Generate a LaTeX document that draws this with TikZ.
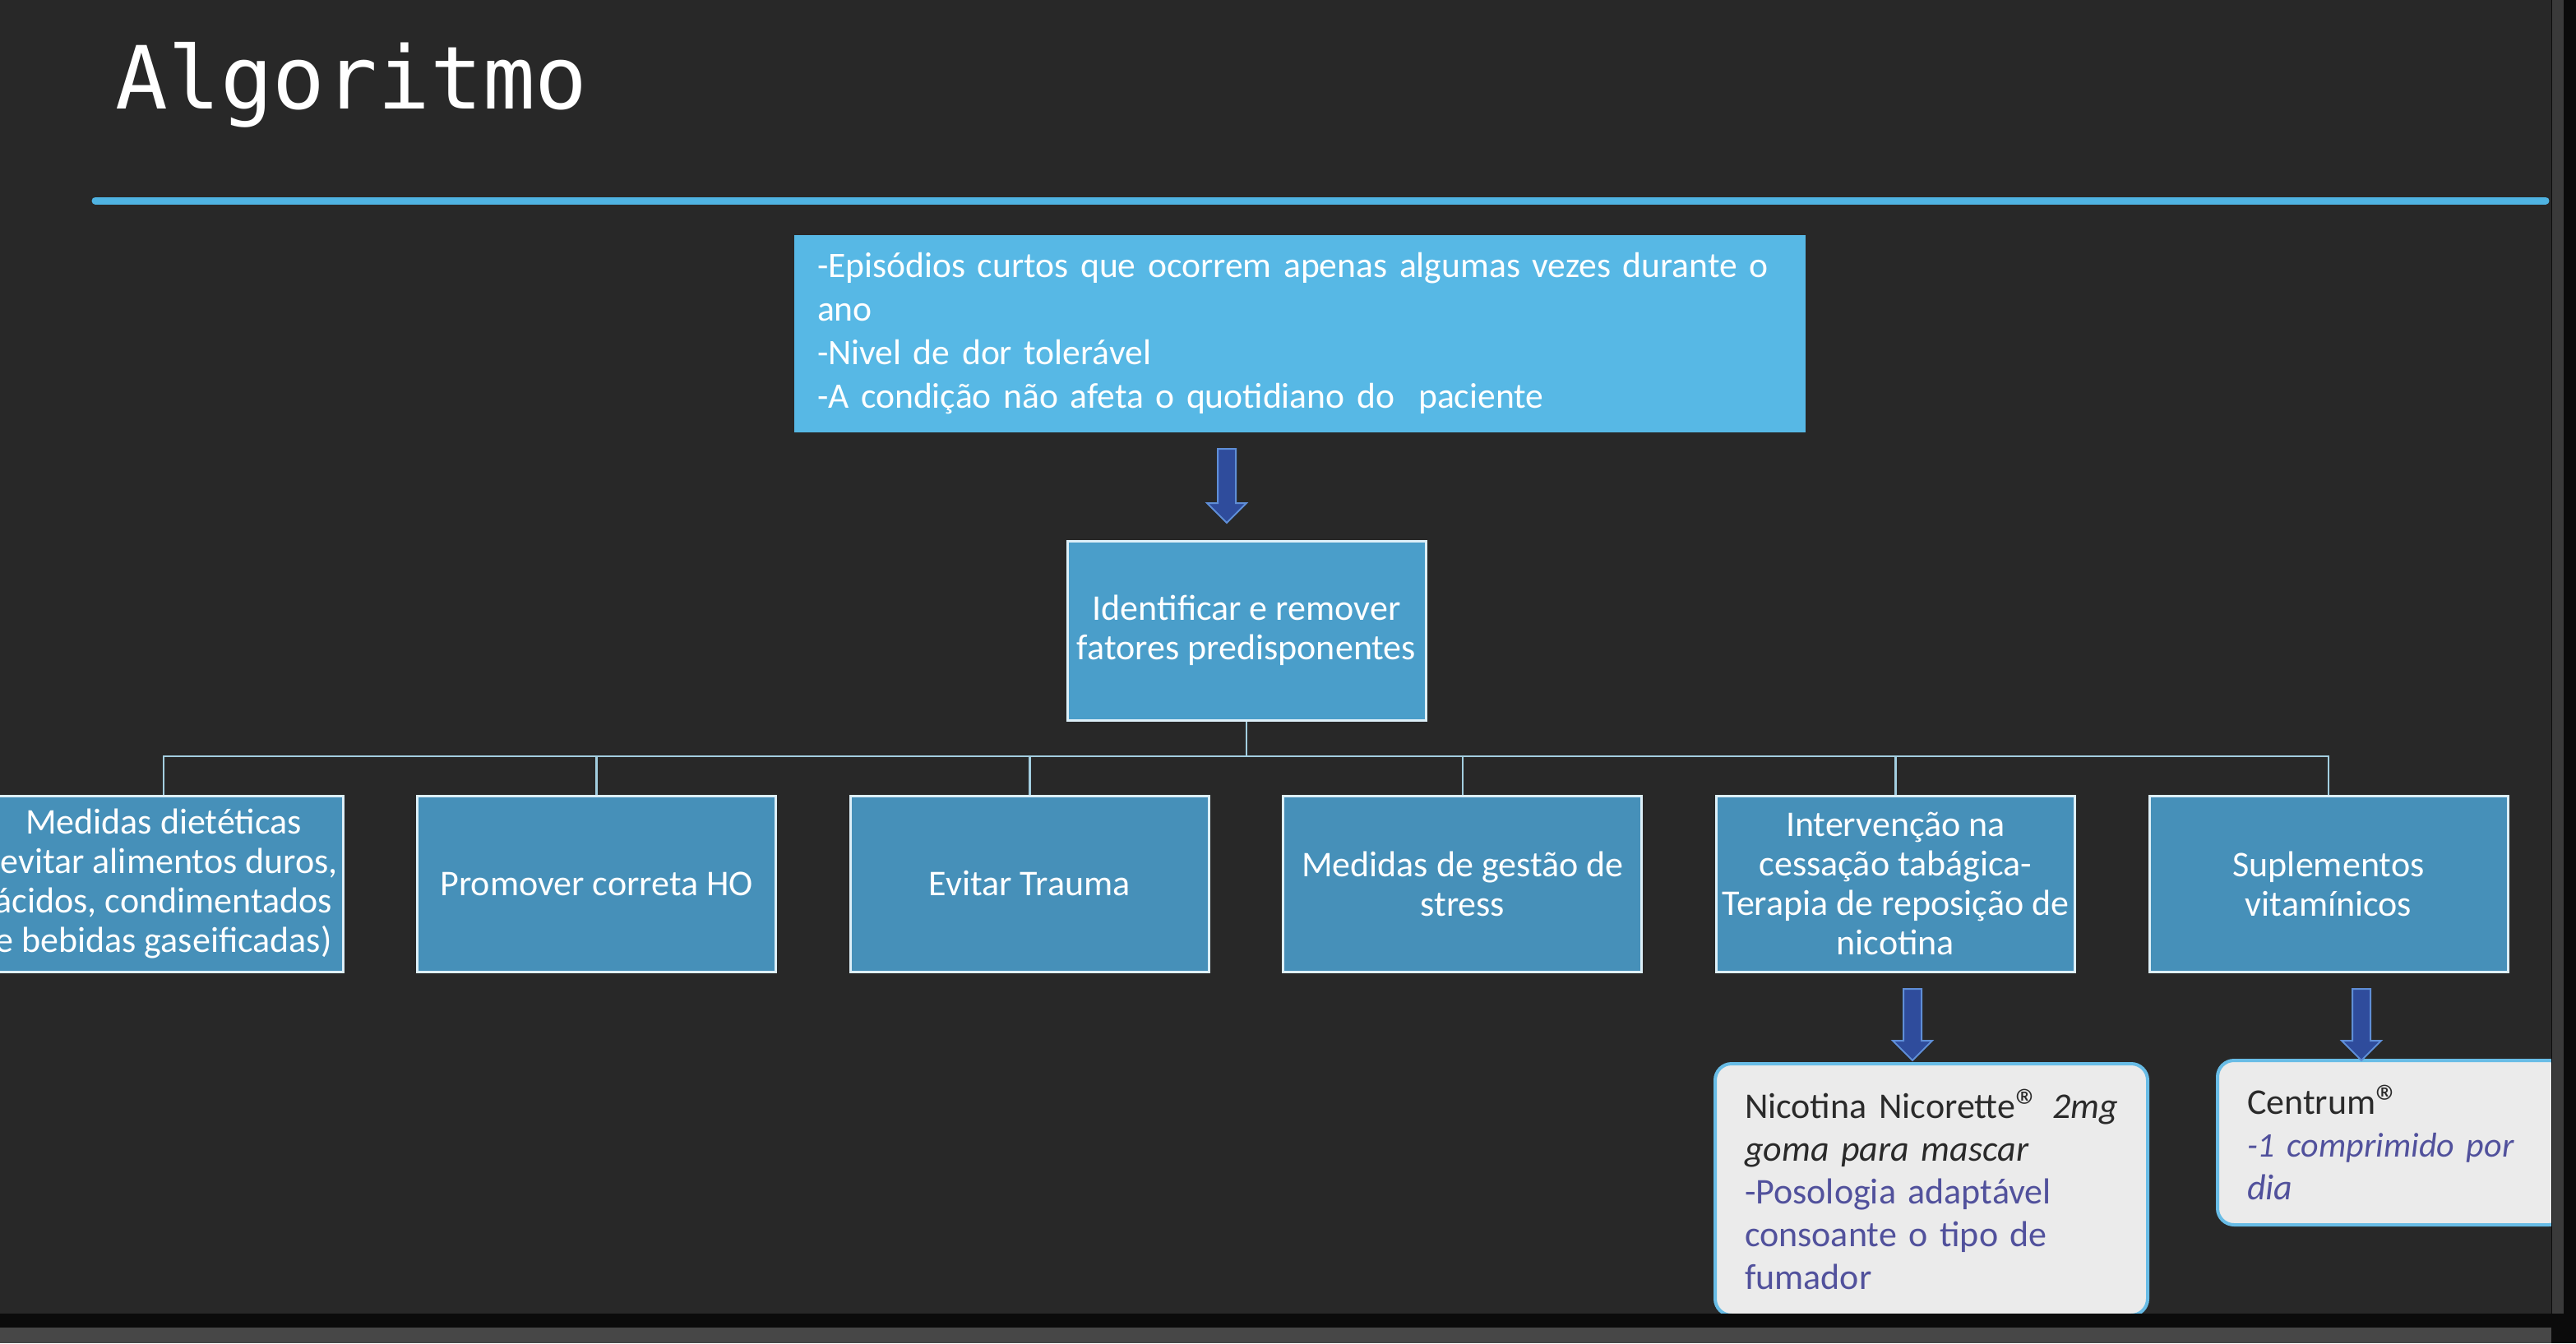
\documentclass[tikz,border=0pt]{standalone}
\usepackage{fontspec}
\setmainfont{Carlito}
\newfontfamily\topfont{Carlito}[WordSpace=0.8]
\newfontfamily\titlefont{DejaVu Sans Mono}
\usetikzlibrary{calc,arrows.meta}
\definecolor{board}{HTML}{282828}
\definecolor{hdrline}{HTML}{4FB3E2}
\definecolor{topblue}{HTML}{57B8E5}
\definecolor{midblue}{HTML}{4A9ECA}
\definecolor{rowblue}{HTML}{4690B9}
\definecolor{boxedge}{HTML}{DDEFF8}
\definecolor{connline}{HTML}{A3CEE0}
\definecolor{arrowfill}{HTML}{2F4C9C}
\definecolor{arrowedge}{HTML}{5F8ED6}
\definecolor{notegray}{HTML}{EBEBEB}
\definecolor{noteedge}{HTML}{68BCE6}
\definecolor{notedark}{HTML}{2A2A2A}
\definecolor{notepurple}{HTML}{51519C}
\definecolor{edgegray}{HTML}{3A3A3A}
\definecolor{edgeblack}{HTML}{0B0B0B}
\definecolor{bottomgray}{HTML}{474747}
\newcommand{\regmark}{{\fontsize{30}{30}\selectfont\raisebox{-3pt}{®}}}
\newcommand{\blkarrow}[2]{%
  \draw[arrowsty] let \p1=(#1), \p2=(#2) in
    (\x1-5.5pt,\y1) -- (\x1+5.5pt,\y1) -- (\x1+5.5pt,\y2+12pt) --
    (\x1+12pt,\y2+12pt) -- (\x1,\y2) -- (\x1-12pt,\y2+12pt) --
    (\x1-5.5pt,\y2+12pt) -- cycle;}
\begin{document}
\begin{tikzpicture}[x=1pt,y=-1pt,
  topbox/.style={fill=topblue, draw=none, text=white, inner sep=0pt,
    minimum width=615pt, minimum height=120pt, text width=587pt, align=left,
    font=\topfont\fontsize{21.8}{26.5}\selectfont},
  smartbox/.style={fill=rowblue, draw=boxedge, line width=1.5pt, text=white,
    inner sep=0pt, minimum width=218pt, minimum height=107pt, align=center,
    font=\fontsize{22}{24}\selectfont},
  notebox/.style={fill=notegray, draw=noteedge, line width=2pt, rounded corners=10pt,
    text=notedark, inner sep=0pt, align=left, font=\fontsize{22}{26}\selectfont},
  conn/.style={draw=connline, line width=1.3pt},
  arrowsty/.style={fill=arrowfill, draw=arrowedge, line width=1pt},
]
\useasboundingbox (0,0) rectangle (1566.5,817);
\fill[board] (0,0) rectangle (1551.5,799);
\begin{scope}
\clip (0,0) rectangle (1551.5,799);
\node[anchor=base west, inner sep=0pt, text=white,
  font=\titlefont\fontsize{53}{60}\selectfont] (title) at (70,66) {Algoritmo};
\draw[hdrline, line width=4.5pt, line cap=round] (58,122) -- (1548,122);

\node[topbox] (top) at (790.5,203) {\mbox{-Episódios curtos que ocorrem apenas algumas vezes durante o}\\ano\\-Nivel de dor tolerável\\-A condição não afeta o quotidiano do~~paciente};

\node[smartbox, fill=midblue, minimum height=109pt] (ident) at (758,383.5) {Identificar e remover\\fatores predisponentes};

\node[smartbox] (b1) at (99.5,537.5) {Medidas dietéticas\\(evitar alimentos duros,\\ácidos, condimentados\\e bebidas gaseificadas)};
\node[smartbox] (b2) at (362.8,537.5) {Promover correta HO};
\node[smartbox] (b3) at (626.1,537.5) {Evitar Trauma};
\node[smartbox] (b4) at (889.4,537.5) {Medidas de gestão de\\stress};
\node[smartbox] (b5) at (1152.7,537.5) {Intervenção na\\cessação tabágica-\\Terapia de reposição de\\nicotina};
\node[smartbox] (b6) at (1416,537.5) {Suplementos\\vitamínicos};

\coordinate (bus) at (758,460);
\draw[conn] (ident.south) -- (bus);
\foreach \b in {b1,b2,b3,b4,b5,b6} \draw[conn] (bus) -| (\b.north);

\node[notebox, minimum width=263pt, minimum height=153pt, text width=227pt] (nic) at (1174.5,723.5)
  {\mbox{Nicotina Nicorette\regmark{} \textit{2mg}}\\\textit{goma para mascar}\\\textcolor{notepurple}{-Posologia adaptável}\\\textcolor{notepurple}{consoante o tipo de}\\\textcolor{notepurple}{fumador}};
\node[notebox, minimum width=211.5pt, minimum height=100pt, text width=175.5pt] (cen) at (1454.25,695)
  {Centrum\regmark\\\mbox{\fontsize{21}{26}\selectfont\textcolor{notepurple}{\textit{-1 comprimido por}}}\\\textcolor{notepurple}{\textit{dia}}};

\coordinate (a1s) at (746,273);
\coordinate (a1e) at (746,318);
\coordinate (a2s) at (1163,601.5);
\coordinate (a2e) at (1163,645);
\coordinate (a3s) at (1436,601.5);
\coordinate (a3e) at (1436,645);
\blkarrow{a1s}{a1e}
\blkarrow{a2s}{a2e}
\blkarrow{a3s}{a3e}
\end{scope}
\fill[edgeblack] (1551.5,0) rectangle (1566.5,817);
\fill[edgegray] (1552,0) rectangle (1559,807);
\fill[edgeblack] (0,799) rectangle (1566.5,807.5);
\fill[bottomgray] (0,807.5) rectangle (1551.5,817);
\end{tikzpicture}
\end{document}
